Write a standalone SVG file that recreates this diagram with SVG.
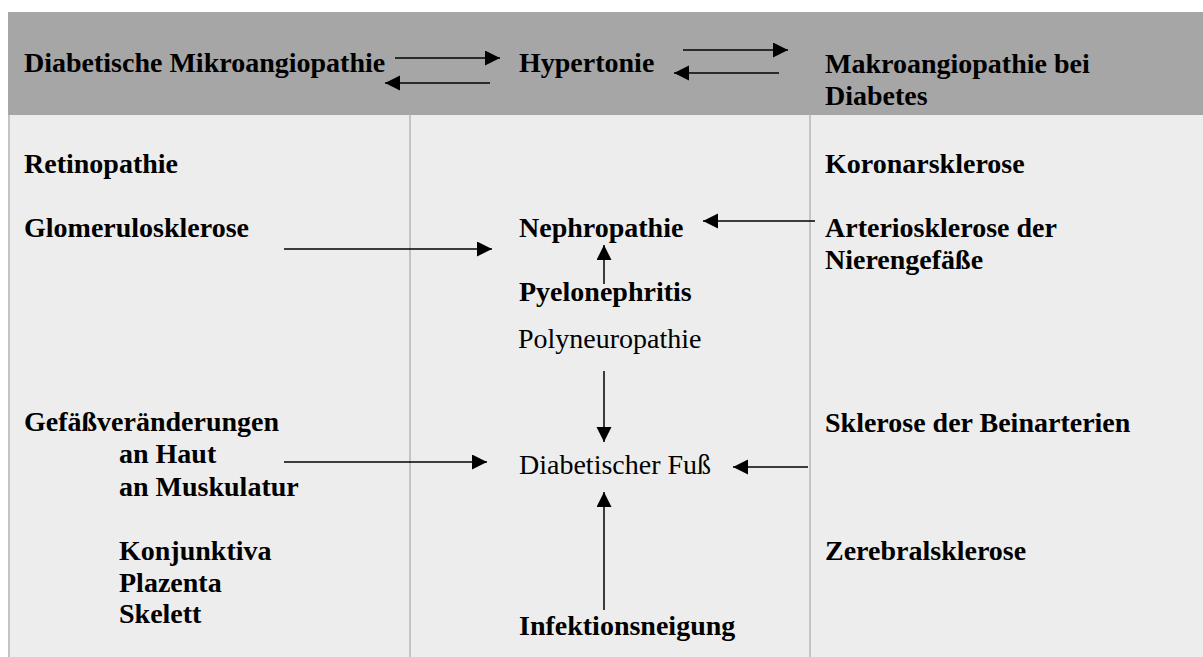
<svg xmlns="http://www.w3.org/2000/svg" width="1203" height="657" viewBox="0 0 1203 657">
<style>
  text { font-family: "Liberation Serif", "Times New Roman", serif; font-size: 28px; fill: #000; }
  .b { font-weight: bold; }
  .conn line { stroke: #000; stroke-width: 1.5; marker-end: url(#ah); }
  .sep { stroke: #c4c4c4; stroke-width: 2; }
</style>
<defs>
  <marker id="ah" markerUnits="userSpaceOnUse" markerWidth="16" markerHeight="16" refX="15" refY="7.5" orient="auto">
    <path d="M0,0 L15,7.5 L0,15 Z" fill="#000"/>
  </marker>
</defs>
<rect x="0" y="0" width="1203" height="657" fill="#ffffff"/>
<rect id="body" x="8" y="115" width="1195" height="542" fill="#ededed"/>
<rect id="header" x="8" y="12" width="1195" height="103" fill="#a6a6a6"/>
<g id="separators">
  <line class="sep" x1="9" y1="115" x2="9" y2="657"/>
  <line class="sep" x1="410" y1="115" x2="410" y2="657"/>
  <line class="sep" x1="810" y1="115" x2="810" y2="657"/>
</g>

<g id="n-mikro"><text class="b" x="24" y="72">Diabetische Mikroangiopathie</text></g>
<g id="n-hyper"><text class="b" x="519" y="72">Hypertonie</text></g>
<g id="n-makro"><text class="b" x="825" y="73">Makroangiopathie bei</text><text class="b" x="825" y="105">Diabetes</text></g>

<g id="n-retino"><text class="b" x="24" y="173">Retinopathie</text></g>
<g id="n-glomer"><text class="b" x="24" y="237">Glomerulosklerose</text></g>
<g id="n-gefaess">
  <text class="b" x="24" y="431">Gefäßveränderungen</text>
  <text class="b" x="119" y="463">an Haut</text>
  <text class="b" x="119" y="496">an Muskulatur</text>
</g>
<g id="n-konj">
  <text class="b" x="119" y="560">Konjunktiva</text>
  <text class="b" x="119" y="592">Plazenta</text>
  <text class="b" x="119" y="623">Skelett</text>
</g>

<g id="n-nephro"><text class="b" x="519" y="237">Nephropathie</text></g>
<g id="n-pyelo"><text class="b" x="519" y="301">Pyelonephritis</text></g>
<g id="n-poly"><text x="518" y="348">Polyneuropathie</text></g>
<g id="n-fuss"><text x="519" y="474">Diabetischer Fuß</text></g>
<g id="n-infekt"><text class="b" x="519" y="635">Infektionsneigung</text></g>

<g id="n-koronar"><text class="b" x="825" y="173">Koronarsklerose</text></g>
<g id="n-arterio"><text class="b" x="825" y="237">Arteriosklerose der</text><text class="b" x="825" y="269">Nierengefäße</text></g>
<g id="n-bein"><text class="b" x="825" y="432">Sklerose der Beinarterien</text></g>
<g id="n-zereb"><text class="b" x="825" y="560">Zerebralsklerose</text></g>

<g id="connectors" class="conn">
  <line x1="395" y1="58" x2="500" y2="58"/>
  <line x1="490" y1="83" x2="385" y2="83"/>
  <line x1="683" y1="50" x2="788" y2="50"/>
  <line x1="779" y1="73" x2="674" y2="73"/>
  <line x1="284" y1="249" x2="492" y2="249"/>
  <line x1="815" y1="221" x2="703" y2="221"/>
  <line x1="604" y1="284" x2="604" y2="245"/>
  <line x1="604" y1="371" x2="604" y2="442"/>
  <line x1="284" y1="462" x2="487" y2="462"/>
  <line x1="808" y1="467" x2="733" y2="467"/>
  <line x1="604" y1="610" x2="604" y2="492"/>
</g>
</svg>
